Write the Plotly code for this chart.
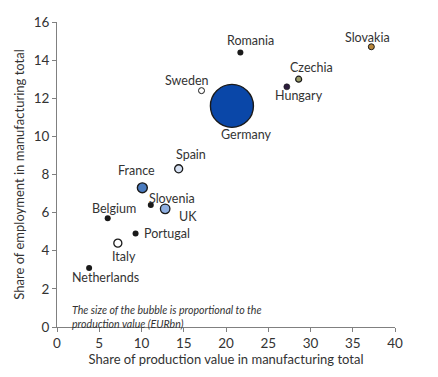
import plotly.graph_objects as go

countries = ["Germany", "France", "UK", "Spain", "Italy", "Czechia", "Sweden", "Slovakia",
             "Hungary", "Romania", "Belgium", "Portugal", "Slovenia", "Netherlands"]
prod_share = [20.7, 10.1, 12.8, 14.4, 7.2, 28.6, 17.1, 37.2, 27.2, 21.7, 6.0, 9.3, 11.1, 3.8]
empl_share = [11.6, 7.3, 6.2, 8.3, 4.4, 13.0, 12.4, 14.7, 12.6, 14.4, 5.7, 4.9, 6.4, 3.1]
prod_value = [430, 23, 21, 15, 15, 7, 3.7, 3.7, 3.7, 2.1, 2.1, 2.1, 0.9, 2.1]

# styling (not data)
colors = ["#0a47a8", "#4a7bbf", "#8eaee0", "#d6e1f3", "#ffffff", "#9c9d6c", "#ffffff", "#b8863a",
          "#2b1c3c", "#1a1a1a", "#1a1a1a", "#1a1a1a", "#1a1a1a", "#1a1a1a"]
line_widths = [1.4, 1.4, 1.3, 1.3, 1.3, 1.2, 1.0, 1.0, 0.6, 0, 0, 0, 0, 0]
label_shift = [(15, -29), (-6, 17), (23, -8), (12, 14), (6, -13), (13, 12), (-15, 10), (-4, 9),
               (12, -9), (10, 12), (6, 10), (31, 0), (21, 7), (16, -10)]

FONT = "Lato"
sizeref = 2.0 * max(prod_value) / 43 ** 2

fig = go.Figure()
fig.add_trace(go.Scatter(
    x=prod_share, y=empl_share, mode="markers",
    marker=dict(size=prod_value, sizemode="area", sizeref=sizeref, sizemin=3,
                color=colors, line=dict(color="#1a1a1a", width=line_widths), opacity=1),
    hoverinfo="text", text=countries, showlegend=False,
))

for c, x, y, (dx, dy) in zip(countries, prod_share, empl_share, label_shift):
    fig.add_annotation(x=x, y=y, text=c, showarrow=False, xshift=dx, yshift=dy,
                       xanchor="center", yanchor="middle",
                       font=dict(family=FONT, size=12.5, color="#333333"))

fig.add_annotation(x=1.55, y=1.3, xanchor="left", yanchor="top",
                   align="left", showarrow=False,
                   text="<i>The size of the bubble is proportional to the<br>production value (EURbn)</i>",
                   font=dict(family=FONT, size=10.6, color="#333333"))

axis_common = dict(showgrid=False, zeroline=False, showline=True, linecolor="#808080",
                   linewidth=1, ticks="outside", ticklen=4, tickcolor="#808080",
                   automargin=False,
                   tickfont=dict(family=FONT, size=13.5, color="#333333"))

fig.update_xaxes(range=[0, 40], dtick=5, **axis_common,
                 title=dict(text="Share of production value in manufacturing total",
                            font=dict(family=FONT, size=13, color="#333333"), standoff=2))
fig.update_yaxes(range=[0, 16], dtick=2, **axis_common,
                 title=dict(text="Share of employment in manufacturing total",
                            font=dict(family=FONT, size=13, color="#333333"), standoff=6))

# page body has an 8px default margin; compensate so the plot area lands where the reference has it
fig.update_layout(width=438, height=377, margin=dict(l=49, r=51, t=14, b=58),
                  plot_bgcolor="white", paper_bgcolor="white",
                  font=dict(family=FONT, color="#333333"))

fig.write_html("out.html")
